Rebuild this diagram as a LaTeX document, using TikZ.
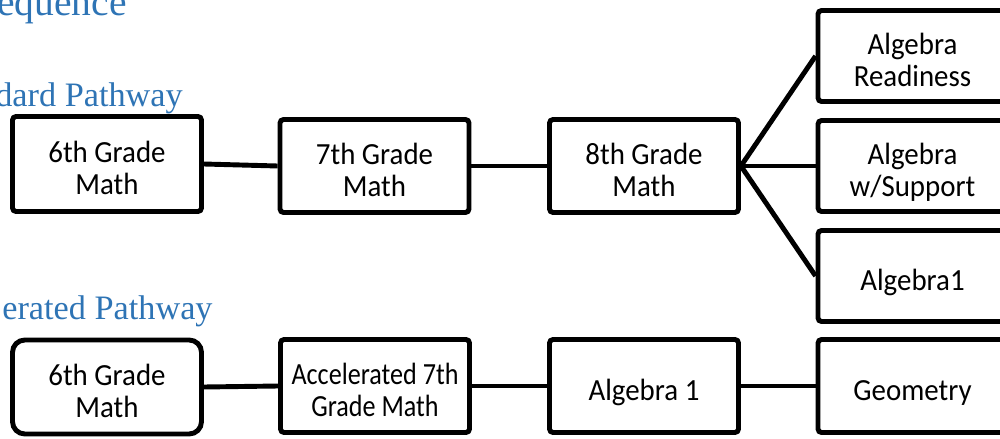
\documentclass[tikz,border=0pt]{standalone}
\usepackage{fontspec}
\setmainfont{Carlito}[FakeStretch=0.94]
\newfontfamily\condfont{Carlito}[FakeStretch=0.85]
\newfontfamily\headfont{Liberation Serif}
\definecolor{headblue}{RGB}{46,116,181}
\begin{document}
\begin{tikzpicture}[x=0.02cm,y=-0.02cm,
  box/.style={draw=black, line width=2.8pt, rounded corners=2pt, fill=white, align=center,
    font=\fontsize{17.5}{18}\selectfont, inner sep=0pt, minimum width=3.78cm,
    execute at begin node={\rule{0pt}{20.8pt}},
    execute at end node={\rule[-4pt]{0pt}{4pt}}},
  two/.style={execute at begin node={\rule{0pt}{38.8pt}}},
  link/.style={line width=2.8pt},
  head/.style={anchor=base west, inner sep=0pt, text=headblue, font=\headfont\fontsize{19.5}{22}\selectfont}]
\useasboundingbox (0,0) rectangle (1000,439);
\clip (0,0) rectangle (1000,439);
% headings
\node[head, font=\headfont\fontsize{22.5}{24}\selectfont] (h0) at (-3,16) {equence};
\node[head] (h1) at (-5,107) {dard Pathway};
\node[head] (h2) at (2,319) {erated Pathway};
% standard pathway
\node[box, two, minimum height=1.9cm] (s6) at (107,164) {6th Grade\\Math};
\node[box, two, minimum height=1.86cm] (s7) at (374.5,166) {7th Grade\\Math};
\node[box, two, minimum height=1.86cm] (s8) at (644,166) {8th Grade\\Math};
\node[box, two, minimum height=1.82cm] (ar) at (912.5,56) {Algebra\\Readiness};
\node[box, two, minimum height=1.82cm] (as) at (912.5,166) {Algebra\\w/Support};
\node[box, minimum height=1.82cm] (a1) at (912.5,276) {Algebra1};
% accelerated pathway
\node[box, two, minimum height=1.88cm, rounded corners=7pt, font=\fontsize{17.5}{18.5}\selectfont] (c6) at (107,387) {6th Grade\\Math};
\node[box, two, minimum height=1.86cm, font=\condfont\fontsize{17.5}{18}\selectfont] (c7) at (375,386) {Accelerated 7th\\Grade Math};
\node[box, minimum height=1.86cm] (ca) at (644,386) {Algebra 1};
\node[box, minimum height=1.86cm] (cg) at (912.5,386) {Geometry};
% connectors
\draw[link] (s6.east) -- (s7.west);
\draw[link] (s7.east) -- (s8.west);
\draw[link] (s8.east) -- (ar.west);
\draw[link] (s8.east) -- (as.west);
\draw[link] (s8.east) -- (a1.west);
\draw[link] (c6.east) -- (c7.west);
\draw[link] (c7.east) -- (ca.west);
\draw[link] (ca.east) -- (cg.west);
\end{tikzpicture}
\end{document}
